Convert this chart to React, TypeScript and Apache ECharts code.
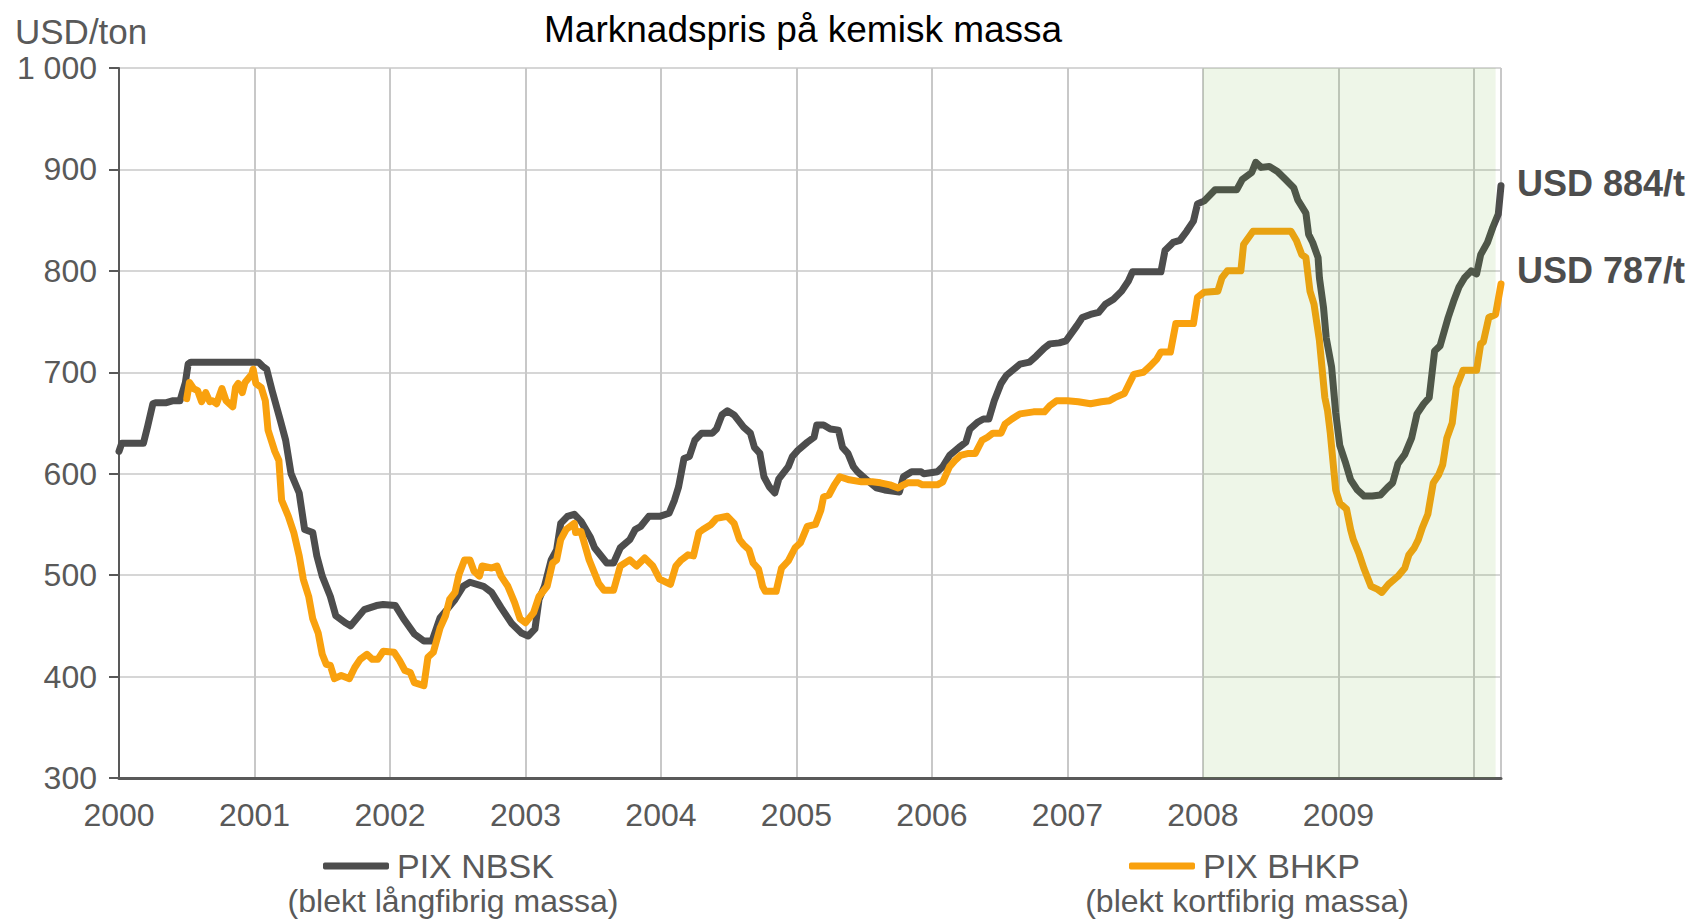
import React, { useEffect, useRef } from "react";
import * as echarts from "echarts";

const FONT = "'Liberation Sans', Arial, Helvetica, sans-serif";

// Time is given as decimal year
const nbskYears = [
  2000.0, 2000.02, 2000.18, 2000.21, 2000.25, 2000.27, 2000.35, 2000.4, 2000.45, 2000.49, 2000.51, 2000.53,
  2001.03, 2001.06, 2001.09, 2001.13, 2001.19, 2001.23, 2001.27, 2001.33, 2001.37, 2001.43, 2001.46, 2001.5,
  2001.56, 2001.6, 2001.67, 2001.71, 2001.81, 2001.9, 2001.95, 2002.04, 2002.1, 2002.18, 2002.25, 2002.31,
  2002.37, 2002.42, 2002.48, 2002.54, 2002.59, 2002.69, 2002.75, 2002.82, 2002.9, 2002.97, 2003.02, 2003.07,
  2003.1, 2003.14, 2003.19, 2003.23, 2003.26, 2003.31, 2003.36, 2003.41, 2003.48, 2003.51, 2003.6, 2003.65,
  2003.7, 2003.77, 2003.81, 2003.85, 2003.91, 2003.99, 2004.06, 2004.1, 2004.13, 2004.17, 2004.21, 2004.25,
  2004.3, 2004.38, 2004.41, 2004.45, 2004.49, 2004.54, 2004.61, 2004.66, 2004.69, 2004.73, 2004.76, 2004.8,
  2004.84, 2004.87, 2004.94, 2004.97, 2005.01, 2005.08, 2005.13, 2005.15, 2005.2, 2005.25, 2005.31, 2005.34,
  2005.38, 2005.42, 2005.45, 2005.51, 2005.59, 2005.65, 2005.76, 2005.79, 2005.85, 2005.92, 2005.94, 2006.04,
  2006.08, 2006.13, 2006.2, 2006.25, 2006.28, 2006.34, 2006.38, 2006.42, 2006.46, 2006.51, 2006.55, 2006.65,
  2006.72, 2006.77, 2006.83, 2006.87, 2006.94, 2006.99, 2007.07, 2007.11, 2007.17, 2007.23, 2007.28, 2007.34,
  2007.4, 2007.45, 2007.48, 2007.69, 2007.72, 2007.78, 2007.83, 2007.88, 2007.93, 2007.96, 2008.01, 2008.09,
  2008.25, 2008.29, 2008.36, 2008.39, 2008.43, 2008.49, 2008.55, 2008.61, 2008.67, 2008.7, 2008.76, 2008.78,
  2008.81, 2008.85, 2008.86, 2008.89, 2008.91, 2008.95, 2008.98, 2009.01, 2009.05, 2009.09, 2009.14, 2009.19,
  2009.25, 2009.31, 2009.36, 2009.4, 2009.44, 2009.49, 2009.54, 2009.58, 2009.63, 2009.67, 2009.71, 2009.75,
  2009.81, 2009.85, 2009.89, 2009.93, 2009.98, 2010.02, 2010.05, 2010.1, 2010.14, 2010.18, 2010.2,
];
const nbskValues = [
  622, 630, 630, 646, 669, 670, 670, 672, 672, 690, 708, 710,
  710, 706, 703, 682, 653, 633, 600, 581, 545, 542, 519, 499,
  479, 460, 453, 450, 466, 470, 471, 470, 457, 442, 435, 435,
  458, 466, 476, 489, 493, 489, 483, 468, 452, 443, 440, 447,
  476, 489, 515, 525, 551, 558, 560, 553, 537, 527, 512, 512,
  527, 535, 545, 548, 558, 558, 561, 574, 587, 615, 617, 633,
  640, 640, 644, 658, 662, 658, 646, 640, 626, 620, 597, 587,
  581, 595, 607, 617, 623, 631, 636, 648, 648, 644, 643, 626,
  620, 607, 602, 595, 586, 584, 582, 597, 602, 602, 600, 602,
  607, 618, 626, 631, 644, 651, 654, 654, 672, 689, 697, 708,
  710, 716, 724, 728, 729, 731, 746, 754, 757, 759, 767, 772,
  780, 790, 799, 799, 820, 828, 830, 839, 849, 866, 869, 880,
  880, 890, 897, 907, 902, 903, 898, 890, 882, 870, 857, 836,
  828, 813, 793, 764, 734, 705, 660, 628, 612, 594, 584, 578,
  578, 579, 586, 591, 610, 619, 635, 659, 669, 675, 721, 726,
  754, 770, 784, 793, 800, 797, 816, 828, 843, 856, 884,
];

const bhkpYears = [
  2000.5, 2000.52, 2000.55, 2000.58, 2000.61, 2000.64, 2000.67, 2000.69, 2000.72, 2000.76, 2000.79, 2000.84,
  2000.86, 2000.88, 2000.91, 2000.93, 2000.98, 2000.99, 2001.01, 2001.05, 2001.08, 2001.1, 2001.15, 2001.18,
  2001.2, 2001.25, 2001.29, 2001.33, 2001.36, 2001.4, 2001.43, 2001.47, 2001.5, 2001.53, 2001.56, 2001.59,
  2001.64, 2001.7, 2001.74, 2001.78, 2001.83, 2001.87, 2001.91, 2001.95, 2002.03, 2002.07, 2002.11, 2002.15,
  2002.18, 2002.25, 2002.28, 2002.32, 2002.37, 2002.41, 2002.44, 2002.48, 2002.51, 2002.55, 2002.59, 2002.62,
  2002.66, 2002.68, 2002.75, 2002.79, 2002.82, 2002.87, 2002.92, 2002.96, 2003.0, 2003.06, 2003.1, 2003.16,
  2003.2, 2003.23, 2003.26, 2003.3, 2003.36, 2003.37, 2003.41, 2003.47, 2003.54, 2003.58, 2003.65, 2003.7,
  2003.77, 2003.82, 2003.88, 2003.94, 2003.99, 2004.07, 2004.11, 2004.15, 2004.2, 2004.24, 2004.28, 2004.31,
  2004.37, 2004.41, 2004.49, 2004.54, 2004.58, 2004.61, 2004.65, 2004.68, 2004.72, 2004.75, 2004.77, 2004.85,
  2004.89, 2004.94, 2004.99, 2005.03, 2005.08, 2005.14, 2005.18, 2005.2, 2005.24, 2005.28, 2005.32, 2005.39,
  2005.48, 2005.56, 2005.62, 2005.69, 2005.75, 2005.79, 2005.82, 2005.9, 2005.93, 2006.04, 2006.08, 2006.13,
  2006.17, 2006.21, 2006.27, 2006.32, 2006.37, 2006.41, 2006.45, 2006.51, 2006.54, 2006.59, 2006.65, 2006.75,
  2006.83, 2006.87, 2006.92, 2007.0, 2007.08, 2007.17, 2007.25, 2007.31, 2007.35, 2007.42, 2007.46, 2007.49,
  2007.56, 2007.61, 2007.66, 2007.69, 2007.76, 2007.8, 2007.93, 2007.96, 2008.01, 2008.11, 2008.14, 2008.18,
  2008.28, 2008.3, 2008.37, 2008.65, 2008.69, 2008.73, 2008.76, 2008.79, 2008.82, 2008.86, 2008.9, 2008.92,
  2008.94, 2008.98, 2009.01, 2009.06, 2009.09, 2009.11, 2009.15, 2009.19, 2009.24, 2009.29, 2009.32, 2009.37,
  2009.44, 2009.49, 2009.52, 2009.56, 2009.59, 2009.62, 2009.66, 2009.7, 2009.74, 2009.77, 2009.8, 2009.84,
  2009.87, 2009.92, 2010.02, 2010.05, 2010.07, 2010.11, 2010.16, 2010.2,
];
const bhkpValues = [
  674, 690, 684, 682, 671, 680, 671, 672, 669, 684, 672, 666,
  685, 689, 680, 690, 698, 703, 689, 685, 672, 643, 622, 613,
  574, 558, 542, 519, 496, 479, 457, 443, 422, 412, 411, 398,
  401, 398, 409, 417, 422, 417, 417, 425, 424, 416, 406, 404,
  394, 391, 419, 424, 448, 460, 476, 483, 501, 515, 515, 504,
  499, 509, 507, 509, 499, 489, 473, 457, 453, 463, 479, 489,
  512, 515, 535, 545, 551, 542, 543, 515, 492, 485, 485, 509,
  515, 509, 517, 509, 496, 491, 509, 515, 520, 519, 542, 545,
  550, 556, 558, 551, 535, 530, 525, 512, 506, 489, 484, 484,
  507, 514, 527, 532, 548, 550, 564, 577, 579, 589, 597, 594,
  592, 592, 591, 589, 586, 589, 591, 591, 589, 589, 592, 607,
  613, 618, 620, 620, 633, 636, 640, 640, 649, 654, 659, 661,
  661, 667, 672, 672, 671, 669, 671, 672, 675, 679, 690, 698,
  700, 706, 713, 720, 720, 748, 748, 774, 779, 780, 793, 800,
  800, 826, 839, 839, 830, 816, 813, 780, 767, 731, 675, 662,
  640, 584, 571, 565, 545, 535, 522, 506, 489, 486, 483, 491,
  499, 507, 520, 527, 535, 547, 560, 591, 599, 609, 635, 650,
  685, 702, 702, 728, 730, 754, 757, 787,
];

const yearTicks = [2000, 2001, 2002, 2003, 2004, 2005, 2006, 2007, 2008, 2009];
const shadeRange = [2008, 2010.16];
const xRange = [2000, 2010.2];
const yRange = [300, 1000];

const seriesNames = ["PIX NBSK", "PIX BHKP"];
const seriesNotes = ["(blekt långfibrig massa)", "(blekt kortfibrig massa)"];
const endLabels = ["USD 884/t", "USD 787/t"];
const colors = ["#4d4d4d", "#f9a10e"];

const pairs = (xs: number[], ys: number[]) => xs.map((x, i) => [x, ys[i]]);

export default function App() {
  const ref = useRef<HTMLDivElement>(null);

  useEffect(() => {
    if (!ref.current) return;
    const chart = echarts.init(ref.current, null, { renderer: "svg" });
    const labelColor = "#595959";
    const option: any = {
      animation: false,
      backgroundColor: "#ffffff",
      textStyle: { fontFamily: FONT },
      title: {
        text: "Marknadspris på kemisk massa",
        left: 544,
        top: 11,
        padding: 0,
        textStyle: { fontFamily: FONT, fontSize: 37, fontWeight: "normal", color: "#000000" },
      },
      grid: { left: 119, right: 196, top: 68, bottom: 144, containLabel: false },
      legend: [
        {
          data: [seriesNames[0]],
          left: 323,
          top: 849,
          padding: 0,
          icon: "roundRect",
          itemWidth: 66,
          itemHeight: 7,
          textStyle: { fontFamily: FONT, fontSize: 34, color: labelColor, padding: [0, 0, 0, 3] },
        },
        {
          data: [seriesNames[1]],
          left: 1129,
          top: 849,
          padding: 0,
          icon: "roundRect",
          itemWidth: 66,
          itemHeight: 7,
          textStyle: { fontFamily: FONT, fontSize: 34, color: labelColor, padding: [0, 0, 0, 3] },
        },
      ],
      graphic: [
        {
          type: "text",
          left: 15,
          top: 14,
          style: { text: "USD/ton", fontFamily: FONT, fontSize: 35, lineHeight: 35, fill: labelColor },
        },
        {
          type: "text",
          x: 453,
          y: 901,
          style: {
            text: seriesNotes[0],
            fontFamily: FONT,
            fontSize: 32,
            fill: labelColor,
            align: "center",
            verticalAlign: "middle",
          },
        },
        {
          type: "text",
          x: 1247,
          y: 901,
          style: {
            text: seriesNotes[1],
            fontFamily: FONT,
            fontSize: 32,
            fill: labelColor,
            align: "center",
            verticalAlign: "middle",
          },
        },
      ],
      xAxis: {
        type: "value",
        min: xRange[0],
        max: xRange[1],
        interval: 1,
        axisLine: { show: true, onZero: false, lineStyle: { color: "#595959", width: 3 } },
        axisTick: { show: false },
        axisLabel: {
          margin: 21,
          fontFamily: FONT,
          fontSize: 32,
          color: labelColor,
          formatter: (v: number) => (yearTicks.indexOf(v) >= 0 ? String(v) : ""),
        },
        splitLine: { show: true, lineStyle: { color: "#c8c8c8", width: 2 } },
      },
      yAxis: {
        type: "value",
        min: yRange[0],
        max: yRange[1],
        interval: 100,
        axisLine: { show: true, lineStyle: { color: "#595959", width: 2 } },
        axisTick: { show: true, length: 10, lineStyle: { color: "#595959", width: 2 } },
        axisLabel: {
          margin: 22,
          fontFamily: FONT,
          fontSize: 32,
          lineHeight: 30,
          color: labelColor,
          formatter: (v: number) => (v >= 1000 ? "1 000" : String(v)),
        },
        splitLine: { show: true, lineStyle: { color: "#d6d6d6", width: 2 } },
      },
      series: [
        {
          name: seriesNames[0],
          type: "line",
          data: pairs(nbskYears, nbskValues),
          showSymbol: false,
          symbol: "none",
          z: 2,
          lineStyle: { color: colors[0], width: 7, join: "round", cap: "round" },
          itemStyle: { color: colors[0] },
          endLabel: {
            show: true,
            formatter: endLabels[0],
            distance: 16,
            offset: [0, -2],
            fontFamily: FONT,
            fontSize: 36,
            fontWeight: "bold",
            color: "#4d4d4d",
          },
        },
        {
          name: seriesNames[1],
          type: "line",
          data: pairs(bhkpYears, bhkpValues),
          showSymbol: false,
          symbol: "none",
          z: 3,
          lineStyle: { color: colors[1], width: 7, join: "round", cap: "round" },
          itemStyle: { color: colors[1] },
          endLabel: {
            show: true,
            formatter: endLabels[1],
            distance: 16,
            offset: [0, -14],
            fontFamily: FONT,
            fontSize: 36,
            fontWeight: "bold",
            color: "#4d4d4d",
          },
        },
        {
          name: "shade",
          type: "line",
          data: [],
          z: 5,
          markArea: {
            silent: true,
            z: 5,
            itemStyle: { color: "rgba(100,170,50,0.11)" },
            data: [[{ xAxis: shadeRange[0] }, { xAxis: shadeRange[1] }]],
          },
        },
      ],
    };
    chart.setOption(option);
    return () => chart.dispose();
  }, []);

  return (
    <div
      ref={ref}
      style={{ position: "absolute", left: 0, top: 0, width: 1697, height: 922 }}
    />
  );
}
